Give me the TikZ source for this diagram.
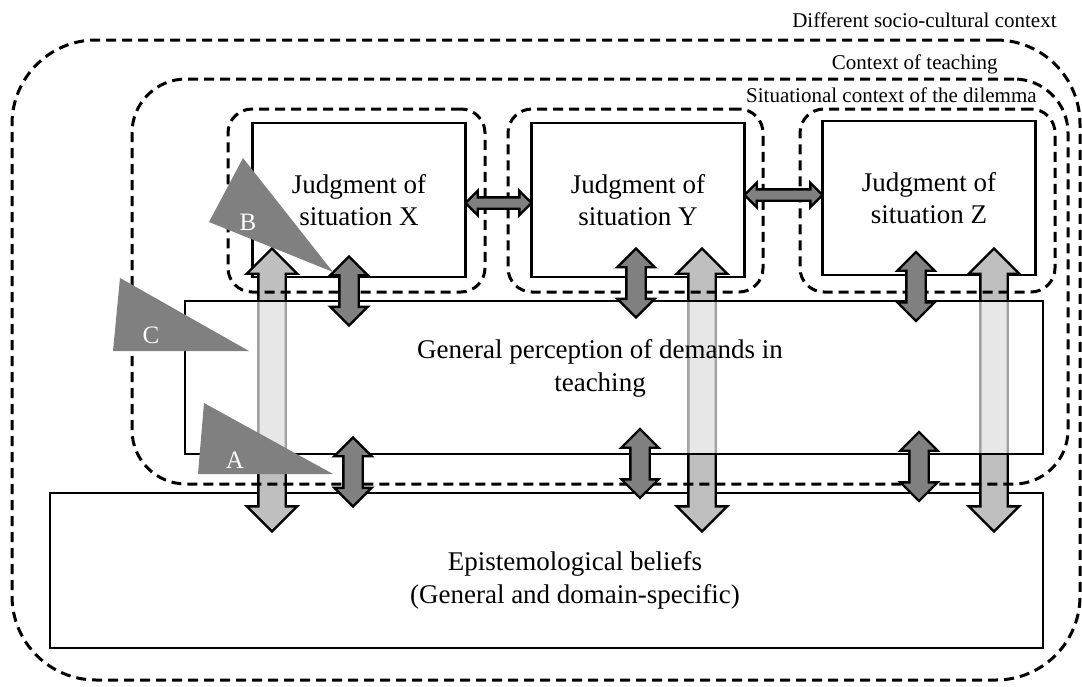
\documentclass[tikz,border=0pt]{standalone}
\usepackage{fontspec}
\setmainfont{Liberation Serif}
\usetikzlibrary{shapes.arrows,calc}

\begin{document}
\begin{tikzpicture}[x=0.5pt,y=-0.5pt]
\tikzstyle{ctx}=[draw,line width=1.5pt,dash pattern=on 5pt off 3pt]
\tikzstyle{ctxlabel}=[anchor=east,inner sep=0pt,font=\fontsize{10.5}{12}\selectfont]
\tikzstyle{plain}=[draw,line width=1.4pt,fill=white]
\tikzstyle{judg}=[plain,minimum width=106.5pt,minimum height=77pt,align=center,font=\fontsize{13.5}{16}\selectfont]
\tikzstyle{txt}=[align=center,font=\fontsize{13.5}{16.5}\selectfont]
\tikzstyle{fat}=[double arrow,draw,line width=1.2pt,inner xsep=0pt]
\tikzstyle{larr}=[fat,fill=black!25,inner ysep=6.25pt,double arrow head extend=5.75pt,minimum height=141.5pt,rotate=90]
\tikzstyle{varr}=[fat,fill=black!50,inner ysep=4.25pt,double arrow head extend=4.5pt,minimum height=34.5pt,rotate=90]
\tikzstyle{harr}=[fat,fill=black!50,inner ysep=2.25pt,double arrow head extend=3.25pt]
\tikzstyle{wedge}=[fill=black!50]
\tikzstyle{tlabel}=[text=white,font=\fontsize{12.5}{14}\selectfont]
\useasboundingbox (0,0) rectangle (1082,686);

\node[plain,minimum width=496.5pt,minimum height=77.5pt] (eb) at (546.5,570.5) {};
\node[txt] (ebt) at (575,580) {Epistemological beliefs\\(General and domain-specific)};
\node[judg] (jx) at (359,200) {Judgment of\\situation X};
\node[judg] (jy) at (638,200) {Judgment of\\situation Y};
\node[judg] (jz) at (929,198) {Judgment of\\situation Z};

\node[larr] (lx) at (272,390) {};
\node[larr] (ly) at (702,390) {};
\node[larr] (lz) at (994,390) {};

\node[plain,fill opacity=.63,minimum width=429pt,minimum height=76.5pt] (gp) at (614,377.5) {};
\node[txt] (gpt) at (600,368) {General perception of demands in\\teaching};

\node[ctx,rounded corners=42pt,minimum width=534pt,minimum height=320pt] (socio) at (546,360) {};
\node[ctx,rounded corners=27pt,minimum width=468pt,minimum height=202.5pt] (teach) at (600,281.5) {};
\node[ctx,rounded corners=12pt,minimum width=128.5pt,minimum height=91.5pt] (sitx) at (356.5,200.5) {};
\node[ctx,rounded corners=12pt,minimum width=127.5pt,minimum height=91.5pt] (sity) at (635.5,200.5) {};
\node[ctx,rounded corners=12pt,minimum width=127.5pt,minimum height=91.5pt] (sitz) at (927.5,200.5) {};

\node[ctxlabel] (lsocio) at (1057,20) {Different socio-cultural context};
\node[ctxlabel] (lteach) at (998,64) {Context of teaching};
\node[ctxlabel] (lsit) at (1037,95) {Situational context of the dilemma};

\node[harr,minimum height=33pt] (hxy) at ([yshift=-1.5pt]$(jx.east)!.5!(jy.west)$) {};
\node[harr,minimum height=39pt] (hyz) at ([yshift=2pt]$(jy.east)!.5!(jz.west)$) {};

\node[varr] (ux) at (349,291) {};
\node[varr] (uy) at (636,283) {};
\node[varr] (uz) at (916,286.5) {};
\node[varr] (dx) at (353,472) {};
\node[varr] (dy) at (640,463.5) {};
\node[varr] (dz) at (919,466.5) {};

\fill[wedge] (243,158) -- (209,222) -- (333,272) -- cycle;
\fill[wedge] (120,278) -- (113,351) -- (249,351) -- cycle;
\fill[wedge] (204,403) -- (198,474) -- (333,474) -- cycle;
\node[tlabel] (tb) at (248,222) {B};
\node[tlabel] (tc) at (151,335) {C};
\node[tlabel] (ta) at (235,460) {A};
\end{tikzpicture}
\end{document}
